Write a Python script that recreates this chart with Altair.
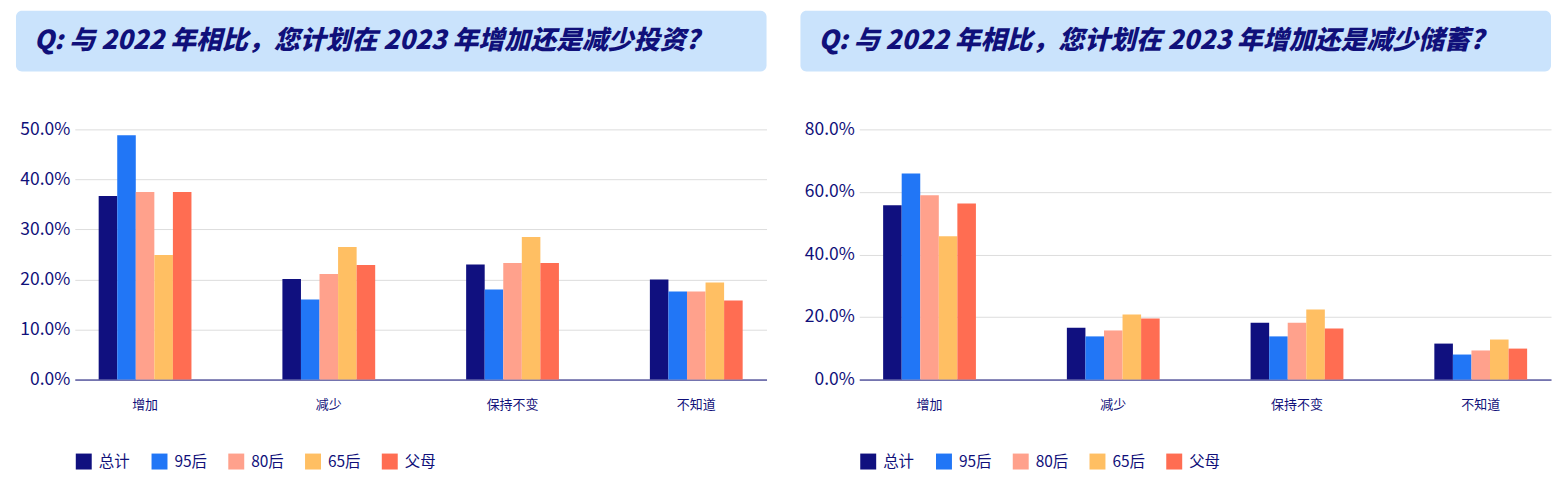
import altair as alt
import pandas as pd

FONT = "Noto Sans CJK SC"
NAVY = "#10107a"
HEADER_BG = "#cae3fc"
GRID = "#dddddd"

CATEGORIES = ["增加", "减少", "保持不变", "不知道"]
GROUPS = ["总计", "95后", "80后", "65后", "父母"]
COLORS = ["#10107f", "#2176f6", "#ffa18c", "#ffbf63", "#ff6d52"]

# 投资 (percent), one list per group, in CATEGORIES order
invest_total = [36.7, 20.1, 23.0, 20.0]
invest_95 = [48.8, 16.0, 18.0, 17.6]
invest_80 = [37.5, 21.1, 23.3, 17.6]
invest_65 = [24.9, 26.5, 28.5, 19.4]
invest_parents = [37.5, 22.9, 23.3, 15.8]

# 储蓄 (percent)
saving_total = [55.7, 16.6, 18.2, 11.5]
saving_95 = [65.9, 13.8, 13.8, 8.0]
saving_80 = [58.9, 15.7, 18.2, 9.3]
saving_65 = [45.8, 20.8, 22.4, 12.8]
saving_parents = [56.3, 19.5, 16.3, 9.9]

INVEST_TITLE = "Q: 与 2022 年相比，您计划在 2023 年增加还是减少投资?"
SAVING_TITLE = "Q: 与 2022 年相比，您计划在 2023 年增加还是减少储蓄?"

PLOT_W = 694
PLOT_H = 251


def _long_frame(series: list[list[float]]) -> pd.DataFrame:
    rows = []
    for grp, values in zip(GROUPS, series):
        for cat, val in zip(CATEGORIES, values):
            rows.append({"cat": cat, "grp": grp, "val": val})
    return pd.DataFrame(rows)


def build_panel(series: list[list[float]], title: str, y_max: float, y_ticks: list[float]) -> alt.LayerChart:
    df = _long_frame(series)
    head = pd.DataFrame({"t": [title]})

    box = (
        alt.Chart(head)
        .mark_rect(color=HEADER_BG, cornerRadius=6)
        .encode(x=alt.value(-59), x2=alt.value(PLOT_W), y=alt.value(-119), y2=alt.value(-58))
    )
    text = (
        alt.Chart(head)
        .mark_text(align="left", baseline="middle", fontSize=26, fontWeight=900,
                   fontStyle="italic", color=NAVY, font=FONT)
        .encode(x=alt.value(-41), y=alt.value(-89), text="t:N")
    )

    bars = (
        alt.Chart(df)
        .mark_bar()
        .encode(
            x=alt.X(
                "cat:N", sort=CATEGORIES, title=None,
                scale=alt.Scale(paddingInner=0.495, paddingOuter=0.13),
                axis=alt.Axis(labelAngle=0, ticks=False, labelPadding=19, labelFontSize=13,
                              labelColor=NAVY, domainColor=NAVY, labelFont=FONT),
            ),
            xOffset=alt.XOffset("grp:N", sort=GROUPS, scale=alt.Scale(paddingInner=0, paddingOuter=0)),
            y=alt.Y(
                "val:Q", title=None,
                scale=alt.Scale(domain=[0, y_max], nice=False),
                axis=alt.Axis(values=y_ticks, labelExpr="format(datum.value, '.1f') + '%'",
                              ticks=False, domain=False, gridColor=GRID, labelFontSize=17.5,
                              labelColor=NAVY, labelPadding=5, labelFont=FONT),
            ),
            color=alt.Color(
                "grp:N", sort=GROUPS,
                scale=alt.Scale(domain=GROUPS, range=COLORS),
                legend=alt.Legend(orient="none", legendX=1, legendY=325, direction="horizontal",
                                  title=None, symbolType="square", symbolSize=256,
                                  symbolStrokeWidth=0, labelFontSize=15.5, labelColor=NAVY,
                                  labelFont=FONT, columnPadding=21, labelOffset=7),
            ),
            tooltip=["cat:N", "grp:N", "val:Q"],
        )
    )

    return alt.layer(box, text, bars).properties(width=PLOT_W, height=PLOT_H)


left = build_panel(
    [invest_total, invest_95, invest_80, invest_65, invest_parents],
    INVEST_TITLE, 50, [0, 10, 20, 30, 40, 50],
)
right = build_panel(
    [saving_total, saving_95, saving_80, saving_65, saving_parents],
    SAVING_TITLE, 80, [0, 20, 40, 60, 80],
)

chart = (
    alt.hconcat(left, right, spacing=34)
    .resolve_scale(color="independent")
    .properties(padding={"left": 8, "top": 2, "right": 4, "bottom": 4})
    .configure(font=FONT)
    .configure_view(stroke=None)
)

chart.save("out.html", embed_options={"renderer": "svg", "actions": False})
